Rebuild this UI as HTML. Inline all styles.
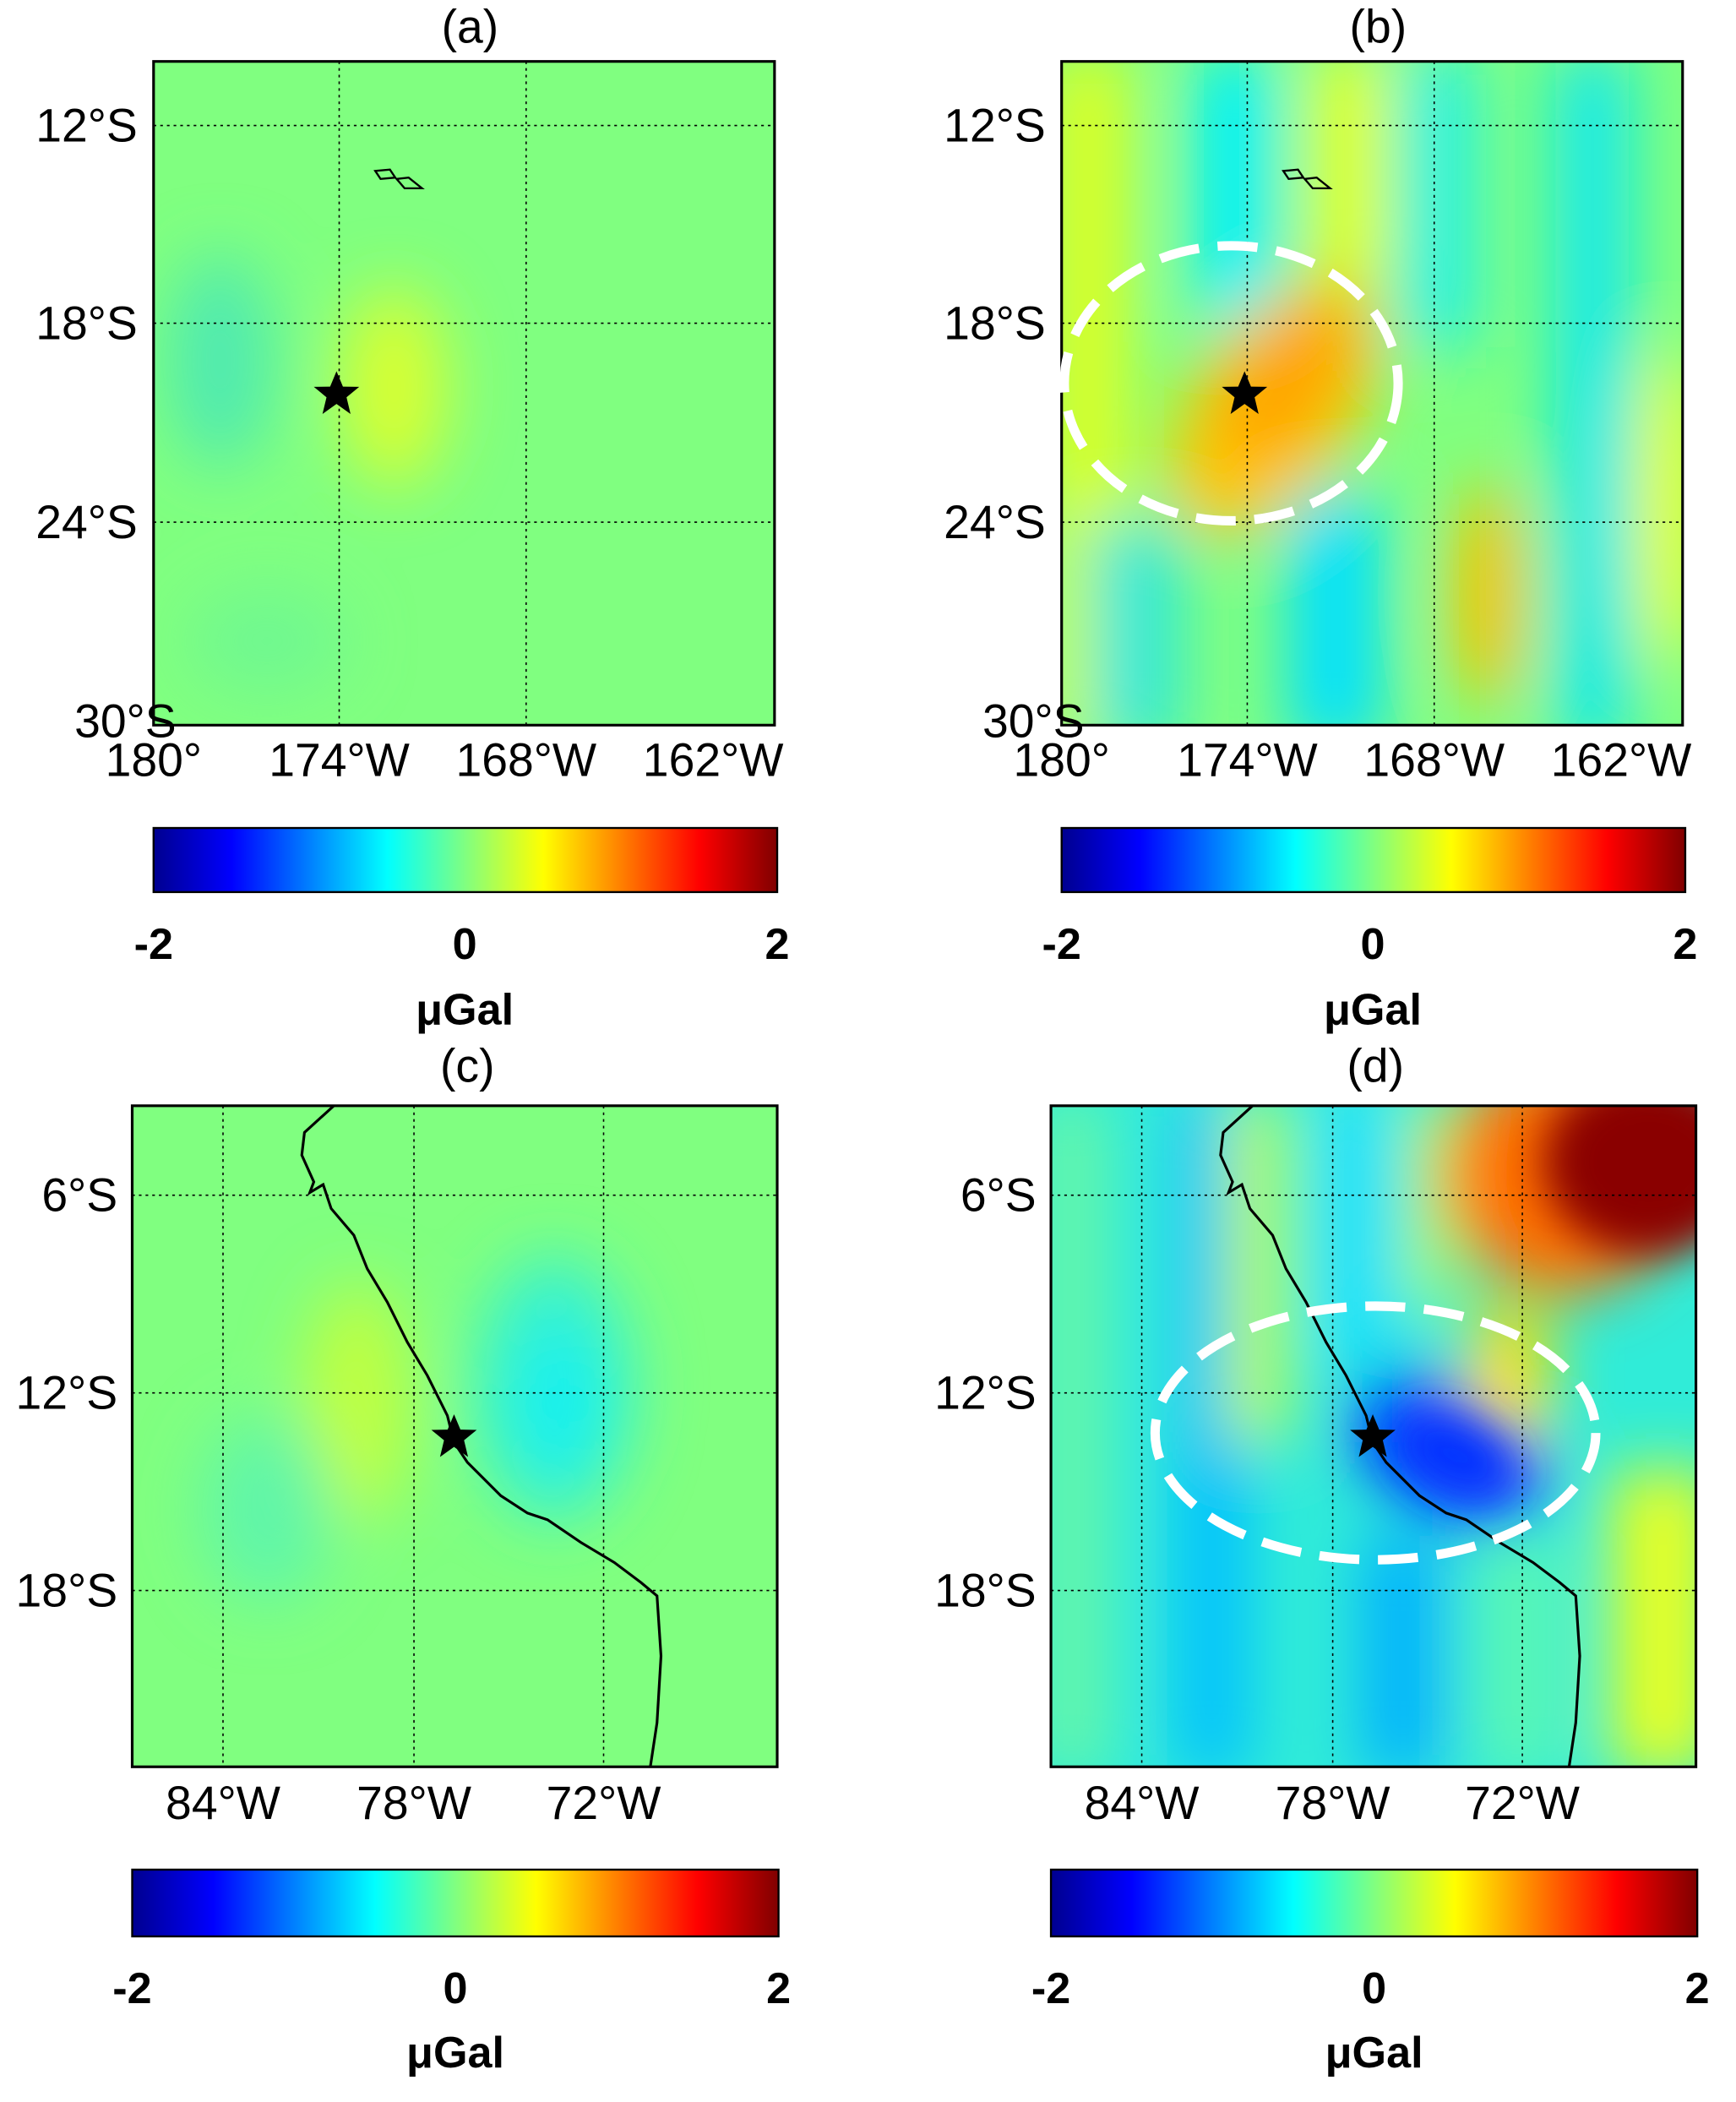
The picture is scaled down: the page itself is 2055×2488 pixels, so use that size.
<!DOCTYPE html>
<html><head><meta charset="utf-8"><style>
html,body{margin:0;padding:0;background:#fff;}
svg{display:block;}
text{font-family:"Liberation Sans",Arial,sans-serif;fill:#000;}
.t{font-size:35px;}
.b{font-size:33px;font-weight:bold;}
</style></head><body>
<svg width="2055" height="2488" viewBox="0 0 1300 1574" preserveAspectRatio="none">
<defs>
<linearGradient id="jet" x1="0" x2="1" y1="0" y2="0">
<stop offset="0" stop-color="#00008f"/><stop offset="0.125" stop-color="#0000ff"/>
<stop offset="0.375" stop-color="#00ffff"/><stop offset="0.5" stop-color="#80ff80"/>
<stop offset="0.625" stop-color="#ffff00"/><stop offset="0.875" stop-color="#ff0000"/>
<stop offset="1" stop-color="#800000"/></linearGradient>
<filter id="bl" x="-50%" y="-50%" width="200%" height="200%"><feGaussianBlur stdDeviation="24"/></filter>
<filter id="bl2" x="-50%" y="-50%" width="200%" height="200%"><feGaussianBlur stdDeviation="16"/></filter>
<clipPath id="ca"><rect x="115" y="46" width="465" height="497"/></clipPath>
<clipPath id="cb"><rect x="795" y="46" width="465" height="497"/></clipPath>
<clipPath id="cc"><rect x="99" y="828" width="483" height="495"/></clipPath>
<clipPath id="cd"><rect x="787" y="828" width="483" height="495"/></clipPath>
<path id="star" d="M0,-17 L4.8,-5.5 L17,-5.3 L7.5,2.5 L10.5,15 L0,7.5 L-10.5,15 L-7.5,2.5 L-17,-5.3 L-4.8,-5.5Z"/>
</defs>

<!-- (a) -->
<text class="t" x="352" y="32" text-anchor="middle">(a)</text>
<g clip-path="url(#ca)">
<rect x="115" y="46" width="465" height="497" fill="#80ff80"/>
<g filter="url(#bl)">
<ellipse cx="295" cy="290" rx="40" ry="75" fill="#d8ff30"/>
<ellipse cx="165" cy="270" rx="40" ry="80" fill="#50eab0"/>
<ellipse cx="200" cy="480" rx="60" ry="40" fill="#70f890"/>
</g>
</g>
<g stroke="#000" stroke-width="1" stroke-dasharray="2,3" fill="none">
<line x1="254" y1="46" x2="254" y2="543"/><line x1="394" y1="46" x2="394" y2="543"/>
<line x1="115" y1="94" x2="580" y2="94"/><line x1="115" y1="242" x2="580" y2="242"/><line x1="115" y1="391" x2="580" y2="391"/>
</g>
<rect x="115" y="46" width="465" height="497" fill="none" stroke="#000" stroke-width="2"/>
<path d="M281,128 L292,127 L296,133 L285,134Z M297,134 L306,133 L316,141 L303,141Z" fill="none" stroke="#000" stroke-width="1.5"/>
<use href="#star" x="252" y="295"/>
<g class="t" text-anchor="end"><text x="103" y="106">12°S</text><text x="103" y="254">18°S</text><text x="103" y="403">24°S</text><text x="132" y="552">30°S</text></g>
<g class="t" text-anchor="middle"><text x="115" y="581">180°</text><text x="254" y="581">174°W</text><text x="394" y="581">168°W</text><text x="534" y="581">162°W</text></g>
<rect x="115" y="620" width="467" height="48" fill="url(#jet)" stroke="#000" stroke-width="1.5"/>
<g class="b" text-anchor="middle"><text x="115" y="718">-2</text><text x="348" y="718">0</text><text x="582" y="718">2</text><text x="348" y="767">μGal</text></g>

<!-- (b) -->
<text class="t" x="1032" y="32" text-anchor="middle">(b)</text>
<g clip-path="url(#cb)">
<rect x="795" y="46" width="465" height="497" fill="#80ff80"/>
<g filter="url(#bl)">
<rect x="785" y="40" width="60" height="520" fill="#e0ff20"/>
<rect x="895" y="40" width="60" height="200" fill="#00f0ff"/>
<rect x="965" y="370" width="70" height="190" fill="#00e0ff"/>
<rect x="985" y="40" width="50" height="170" fill="#f0ff10"/>
<rect x="1050" y="40" width="55" height="220" fill="#20f0e8"/>
<rect x="1165" y="40" width="55" height="520" fill="#10e8f0"/>
<ellipse cx="1115" cy="445" rx="26" ry="85" fill="#ffc000"/>
<rect x="815" y="390" width="70" height="170" fill="#30e8d8"/>
<ellipse cx="1250" cy="380" rx="25" ry="120" fill="#f0ff10"/>
<ellipse cx="955" cy="305" rx="60" ry="110" fill="#ffc800" transform="rotate(35 955 305)"/>
<ellipse cx="962" cy="285" rx="32" ry="70" fill="#ffa000" transform="rotate(35 962 285)"/>
</g>
</g>
<g stroke="#000" stroke-width="1" stroke-dasharray="2,3" fill="none">
<line x1="934" y1="46" x2="934" y2="543"/><line x1="1074" y1="46" x2="1074" y2="543"/>
<line x1="795" y1="94" x2="1260" y2="94"/><line x1="795" y1="242" x2="1260" y2="242"/><line x1="795" y1="391" x2="1260" y2="391"/>
</g>
<rect x="795" y="46" width="465" height="497" fill="none" stroke="#000" stroke-width="2"/>
<path d="M961,128 L972,127 L976,133 L965,134Z M977,134 L986,133 L996,141 L983,141Z" fill="none" stroke="#000" stroke-width="1.5"/>
<ellipse cx="922" cy="287" rx="125" ry="103" fill="none" stroke="#fff" stroke-width="7" stroke-dasharray="30,14"/>
<use href="#star" x="932" y="295"/>
<g class="t" text-anchor="end"><text x="783" y="106">12°S</text><text x="783" y="254">18°S</text><text x="783" y="403">24°S</text><text x="812" y="552">30°S</text></g>
<g class="t" text-anchor="middle"><text x="795" y="581">180°</text><text x="934" y="581">174°W</text><text x="1074" y="581">168°W</text><text x="1214" y="581">162°W</text></g>
<rect x="795" y="620" width="467" height="48" fill="url(#jet)" stroke="#000" stroke-width="1.5"/>
<g class="b" text-anchor="middle"><text x="795" y="718">-2</text><text x="1028" y="718">0</text><text x="1262" y="718">2</text><text x="1028" y="767">μGal</text></g>

<!-- (c) -->
<text class="t" x="350" y="810" text-anchor="middle">(c)</text>
<g clip-path="url(#cc)">
<rect x="99" y="828" width="483" height="495" fill="#80ff80"/>
<g filter="url(#bl)">
<ellipse cx="415" cy="1040" rx="60" ry="100" fill="#38f2d0"/>
<ellipse cx="420" cy="1050" rx="32" ry="55" fill="#10f0f0"/>
<ellipse cx="268" cy="1050" rx="40" ry="90" fill="#c0ff40"/>
<ellipse cx="200" cy="1130" rx="50" ry="70" fill="#60f6a8"/>
</g>
</g>
<g stroke="#000" stroke-width="1" stroke-dasharray="2,3" fill="none">
<line x1="167" y1="828" x2="167" y2="1323"/><line x1="310" y1="828" x2="310" y2="1323"/><line x1="452" y1="828" x2="452" y2="1323"/>
<line x1="99" y1="895" x2="582" y2="895"/><line x1="99" y1="1043" x2="582" y2="1043"/><line x1="99" y1="1191" x2="582" y2="1191"/>
</g>
<polyline id="coast" points="250,828 228,848 226,865 235,885 232,893 242,887 248,905 265,925 275,950 290,975 305,1005 320,1030 335,1060 340,1080 350,1095 375,1120 395,1133 410,1138 435,1155 460,1170 480,1185 492,1195 495,1240 492,1290 487,1323" fill="none" stroke="#000" stroke-width="2"/>
<rect x="99" y="828" width="483" height="495" fill="none" stroke="#000" stroke-width="2"/>
<use href="#star" x="340" y="1076"/>
<g class="t" text-anchor="end"><text x="88" y="907">6°S</text><text x="88" y="1055">12°S</text><text x="88" y="1203">18°S</text></g>
<g class="t" text-anchor="middle"><text x="167" y="1362">84°W</text><text x="310" y="1362">78°W</text><text x="452" y="1362">72°W</text></g>
<rect x="99" y="1400" width="484" height="50" fill="url(#jet)" stroke="#000" stroke-width="1.5"/>
<g class="b" text-anchor="middle"><text x="99" y="1500">-2</text><text x="341" y="1500">0</text><text x="583" y="1500">2</text><text x="341" y="1548">μGal</text></g>

<!-- (d) -->
<text class="t" x="1030" y="810" text-anchor="middle">(d)</text>
<g clip-path="url(#cd)">
<rect x="787" y="828" width="483" height="495" fill="#30ecd8"/>
<g filter="url(#bl)">
<rect x="780" y="820" width="45" height="510" fill="#70f8a0"/>
<rect x="880" y="820" width="55" height="510" fill="#00c0ff"/>
<rect x="920" y="820" width="45" height="260" fill="#c0ff40"/>
<rect x="990" y="820" width="60" height="200" fill="#10e0ff"/>
<rect x="1050" y="820" width="40" height="160" fill="#a0ff60"/>
<rect x="1020" y="1150" width="60" height="180" fill="#00b0ff"/>
<rect x="1110" y="1150" width="55" height="180" fill="#60f8b0"/>
<rect x="1205" y="1100" width="80" height="230" fill="#e8ff20"/>
<ellipse cx="1085" cy="1085" rx="80" ry="50" fill="#0050ff" transform="rotate(25 1085 1085)"/>
<ellipse cx="1170" cy="880" rx="90" ry="90" fill="#ff7000"/>
<rect x="1100" y="980" width="60" height="100" fill="#ffe000"/>
</g>
<g filter="url(#bl2)">
<ellipse cx="1235" cy="870" rx="80" ry="70" fill="#8a0000"/>
<ellipse cx="1090" cy="1090" rx="50" ry="30" fill="#0030ff" transform="rotate(25 1090 1090)"/>
</g>
</g>
<g stroke="#000" stroke-width="1" stroke-dasharray="2,3" fill="none">
<line x1="855" y1="828" x2="855" y2="1323"/><line x1="998" y1="828" x2="998" y2="1323"/><line x1="1140" y1="828" x2="1140" y2="1323"/>
<line x1="787" y1="895" x2="1270" y2="895"/><line x1="787" y1="1043" x2="1270" y2="1043"/><line x1="787" y1="1191" x2="1270" y2="1191"/>
</g>
<use href="#coast" x="688"/>
<rect x="787" y="828" width="483" height="495" fill="none" stroke="#000" stroke-width="2"/>
<ellipse cx="1030" cy="1073" rx="165" ry="95" fill="none" stroke="#fff" stroke-width="7" stroke-dasharray="30,14"/>
<use href="#star" x="1028" y="1076"/>
<g class="t" text-anchor="end"><text x="776" y="907">6°S</text><text x="776" y="1055">12°S</text><text x="776" y="1203">18°S</text></g>
<g class="t" text-anchor="middle"><text x="855" y="1362">84°W</text><text x="998" y="1362">78°W</text><text x="1140" y="1362">72°W</text></g>
<rect x="787" y="1400" width="484" height="50" fill="url(#jet)" stroke="#000" stroke-width="1.5"/>
<g class="b" text-anchor="middle"><text x="787" y="1500">-2</text><text x="1029" y="1500">0</text><text x="1271" y="1500">2</text><text x="1029" y="1548">μGal</text></g>
</svg>
</body></html>
